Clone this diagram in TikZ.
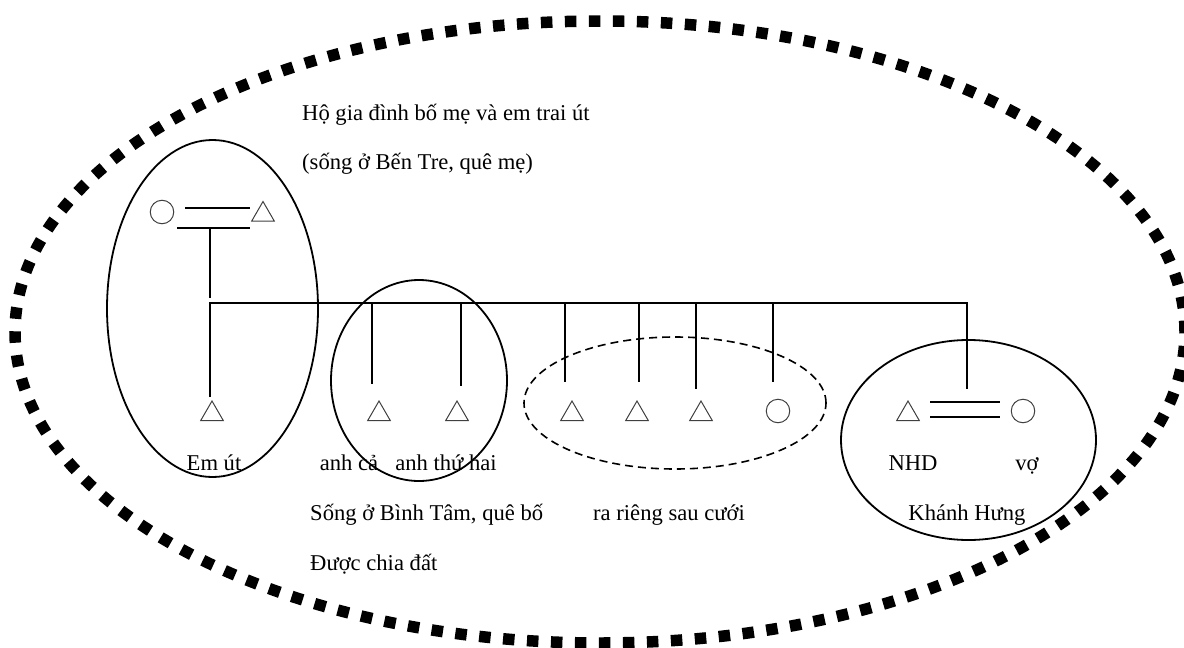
\documentclass[tikz,border=0pt]{standalone}
\usepackage{fontspec}
\setmainfont{Liberation Serif}
\usepackage{tikz}
\usetikzlibrary{shapes.geometric,positioning}

\begin{document}
\begin{tikzpicture}[
  x=1pt, y=-1pt,
  every node/.style={font=\fontsize{22.6}{26}\selectfont},
  tie/.style={line width=1.8pt},
  male/.style={regular polygon, regular polygon sides=3, draw=black!75,
    line width=1pt, minimum size=26pt, inner sep=0pt},
  female/.style={circle, draw=black!75, line width=1pt,
    minimum size=23.5pt, inner sep=0pt},
  groupring/.style={ellipse, draw, line width=1.8pt, inner sep=0pt},
  splitring/.style={groupring, line width=1.6pt, dash pattern=on 8pt off 5pt},
  household/.style={ellipse, draw, inner sep=0pt, line width=11.5pt,
    dash pattern=on 11.5pt off 12.5pt},
  lbl/.style={inner sep=0pt, anchor=base},
  lblw/.style={inner sep=0pt, anchor=base west}
]
\useasboundingbox (0,0) rectangle (1184,648);

% whole household
\node[household, minimum width=1170pt, minimum height=622pt] (home) at (600,332) {};

% parents
\node[female] (mom) at (162,212) {};
\node[male] (dad) at (263,214.5) {};
\coordinate (wedA) at (185,208);
\coordinate (wedB) at (250,208);
\coordinate (wedC) at (177,228);
\coordinate (wedD) at (250,228);
\draw[tie] (wedA) -- (wedB);
\draw[tie] (wedC) -- (wedD);
\coordinate (pdrop) at (210,228);
\coordinate (pend) at (210,298);
\draw[tie] (pdrop) -- (pend);

% sibling bar
\coordinate (barL) at (210,303);
\coordinate (barR) at (967,303);
\coordinate (youngTop) at (210,397);
\coordinate (nhdTop) at (967,389);
\draw[tie] (youngTop) -- (barL) -- (barR) -- (nhdTop);

% children drops
\foreach \n/\x/\y in {a/372/384, b/461/386, c/565/382, d/639/382, e/696/389, f/773/382}{
  \coordinate (top\n) at (\x,303);
  \coordinate (bot\n) at (\x,\y);
  \draw[tie] (top\n) -- (bot\n);
}

% children
\node[male] (young) at (212,414) {};
\node[male] (eldest) at (379,414) {};
\node[male] (second) at (457,414) {};
\node[male] (kidC) at (572,414) {};
\node[male] (kidD) at (637,414) {};
\node[male] (kidE) at (701,414) {};
\node[female] (kidF) at (778,411) {};
\node[male] (nhd) at (908,414) {};
\node[female] (wife) at (1023,411) {};
\coordinate (hA) at (930,402);
\coordinate (hB) at (1000,402);
\coordinate (hC) at (930,417);
\coordinate (hD) at (1000,417);
\draw[tie] (hA) -- (hB);
\draw[tie] (hC) -- (hD);

% group rings
\node[groupring, minimum width=211pt, minimum height=337pt] (parentsRing) at (212.5,308.5) {};
\node[groupring, minimum width=176pt, minimum height=201pt] (brothersRing) at (419,380.5) {};
\node[splitring, minimum width=302pt, minimum height=132pt] (splitRing) at (675,403) {};
\node[groupring, minimum width=255pt, minimum height=200pt] (nhdRing) at (968.5,440) {};

% labels
\node[lblw] (homeTitle) at (302,120) {Hộ gia đình bố mẹ và em trai út};
\node[lblw] (homeNote) at (302,169) {(sống ở Bến Tre, quê mẹ)};
\node[lbl] (youngLbl) at (214,470) {Em út};
\node[lbl] (eldestLbl) at (349,470) {anh cả};
\node[lbl] (secondLbl) at (446,470) {anh thứ hai};
\node[lblw] (brosNote) at (310,520) {Sống ở Bình Tâm, quê bố};
\node[lblw] (landNote) at (310,570) {Được chia đất};
\node[lbl] (splitNote) at (669,520) {ra riêng sau cưới};
\node[lbl] (nhdLbl) at (913,470) {NHD};
\node[lbl] (wifeLbl) at (1027,470) {vợ};
\node[lbl] (placeLbl) at (967,520) {Khánh Hưng};

\end{tikzpicture}
\end{document}
